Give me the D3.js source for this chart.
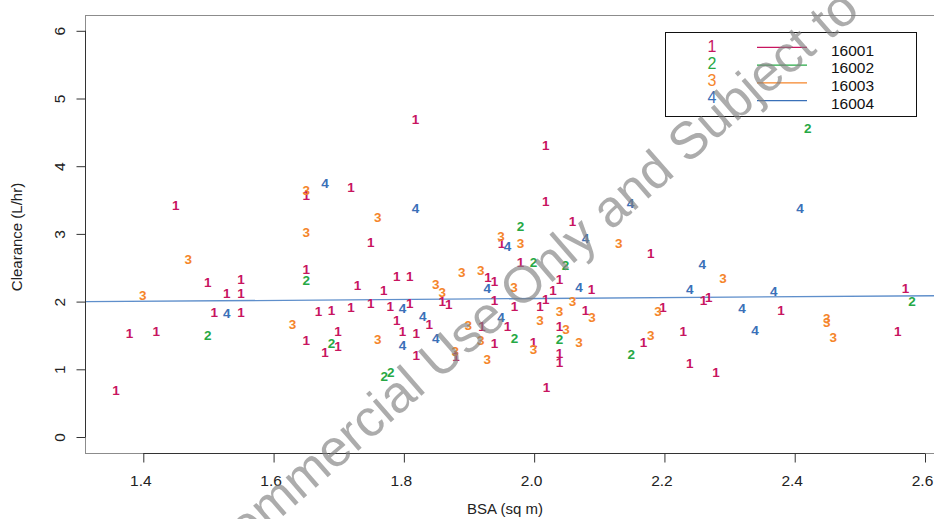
<!DOCTYPE html>
<html><head><meta charset="utf-8">
<script src="https://cdn.jsdelivr.net/npm/d3@7"></script>
<style>
html,body{margin:0;padding:0;background:#fff;}
svg{display:block;font-family:"Liberation Sans",Arial,Helvetica,sans-serif;}
</style></head>
<body><svg id="chart" width="934" height="519"></svg>
<script>
// ---- data ----
const groups = ["1","2","3","4"];
const groupLabels = ["16001","16002","16003","16004"];
const groupColors = ["#c8155f","#26a844","#f5852a","#3a70b8"];
const xTicks = [1.4,1.6,1.8,2.0,2.2,2.4,2.6];
const yTicks = [0,1,2,3,4,5,6];
const xTitle = "BSA (sq m)";
const yTitle = "Clearance (L/hr)";
const watermark = "Commercial Use Only and Subject to";

const g1x = [1.358,1.379,1.420,1.450,1.499,1.509,1.528,1.550,1.550,1.550,1.650,1.650,1.650,1.669,1.689,1.679,1.699,1.699,1.719,1.719,1.729,1.749,1.749,1.769,1.779,1.789,1.789,1.809,1.809,1.798,1.819,1.819,1.818,1.839,1.859,1.869,1.880,1.920,1.929,1.939,1.939,1.939,1.950,1.959,1.970,1.979,1.999,2.009,2.018,2.018,2.018,2.019,2.029,2.039,2.039,2.039,2.039,2.059,2.079,2.088,2.168,2.179,2.198,2.229,2.239,2.260,2.268,2.279,2.379,2.558,2.570];
const g1y = [0.69,1.54,1.57,3.43,2.29,1.85,2.13,2.33,2.13,1.84,2.48,3.57,1.43,1.86,1.88,1.25,1.57,1.34,1.92,3.69,2.25,2.88,1.97,2.17,1.94,2.38,1.73,2.38,1.98,1.57,1.53,1.21,4.69,1.67,2.00,1.96,1.19,1.64,2.36,2.30,2.02,1.38,2.87,1.64,1.94,2.59,1.40,1.94,4.31,3.48,2.03,0.73,2.17,2.33,1.64,1.24,1.11,3.19,1.88,2.18,1.40,2.72,1.92,1.56,1.09,2.02,2.07,0.96,1.88,1.57,2.20];
const g2x = [1.499,1.650,1.689,1.770,1.780,1.970,1.979,1.999,2.039,2.048,2.149,2.420,2.580];
const g2y = [1.51,2.31,1.39,0.90,0.96,1.46,3.12,2.58,1.44,2.54,1.22,4.56,2.00];
const g3x = [1.399,1.469,1.629,1.650,1.650,1.760,1.760,1.849,1.859,1.879,1.889,1.899,1.918,1.918,1.928,1.949,1.969,1.979,1.999,2.009,2.039,2.049,2.059,2.069,2.089,2.130,2.179,2.190,2.290,2.449,2.449,2.459];
const g3y = [2.10,2.62,1.66,3.64,3.03,3.25,1.45,2.26,2.14,1.27,2.44,1.65,2.46,1.43,1.15,2.96,2.21,2.86,1.30,1.73,1.86,1.59,2.01,1.40,1.77,2.87,1.50,1.86,2.34,1.75,1.70,1.47];
const g4x = [1.528,1.679,1.798,1.798,1.818,1.829,1.849,1.928,1.949,1.959,2.069,2.079,2.148,2.239,2.258,2.319,2.339,2.368,2.408];
const g4y = [1.83,3.75,1.90,1.35,3.38,1.78,1.46,2.20,1.77,2.82,2.21,2.93,3.46,2.18,2.55,1.90,1.58,2.16,3.38];
const fitIntercept = 1.909;
const fitSlope = 0.068;

const seriesX = [g1x,g2x,g3x,g4x];
const seriesY = [g1y,g2y,g3y,g4y];

// ---- layout ----
const svg = d3.select("#chart");
const plotL = 85, plotT = 15, plotB = 453, plotR = 960;
const x = d3.scaleLinear().domain([1.4,2.6]).range([143.3,925]);
const y = d3.scaleLinear().domain([0,6]).range([437,30.8]);

// box
svg.append("rect").attr("x",plotL+0.5).attr("y",plotT+0.5)
  .attr("width",plotR-plotL).attr("height",plotB-plotT)
  .attr("fill","none").attr("stroke","#8c8c8c").attr("stroke-width",1);

// axes
const xAxis = d3.axisBottom(x).tickValues(xTicks).tickFormat(d3.format(".1f")).tickSize(9).tickSizeOuter(0);
const gx = svg.append("g").attr("transform",`translate(0,${plotB+0.5})`).call(xAxis);
gx.select(".domain").attr("stroke","#333").attr("d",`M${x(1.4)},0H${x(2.6)}`);
gx.selectAll(".tick line").attr("stroke","#333");
gx.selectAll(".tick text").attr("fill","#222").attr("font-size","15.5px")
  .attr("font-family","Liberation Sans, Arial, sans-serif").attr("dy",null).attr("y",32).attr("x",-3);

const yAxis = d3.axisLeft(y).tickValues(yTicks).tickFormat(d3.format("d")).tickSize(9).tickSizeOuter(0);
const gy = svg.append("g").attr("transform",`translate(${plotL+0.5},0)`).call(yAxis);
gy.select(".domain").attr("stroke","#333").attr("d",`M0,${y(0)}V${y(6)}`);
gy.selectAll(".tick line").attr("stroke","#333");
gy.selectAll(".tick text").attr("fill","#222").attr("font-size","15.5px")
  .attr("font-family","Liberation Sans, Arial, sans-serif")
  .attr("x",null).attr("dy",null).attr("text-anchor","middle")
  .attr("transform","translate(-20.5,0) rotate(-90)").attr("y",0);

// titles
svg.append("text").attr("x",505).attr("y",514).attr("text-anchor","middle")
  .attr("font-size","15px").attr("fill","#222").text(xTitle);
svg.append("text").attr("transform","translate(22,237) rotate(-90)").attr("text-anchor","middle")
  .attr("font-size","15px").attr("fill","#222").text(yTitle);

// clip for plot
svg.append("clipPath").attr("id","pc").append("rect")
  .attr("x",plotL+1).attr("y",plotT+1).attr("width",plotR-plotL-1).attr("height",plotB-plotT-1);

// fit line
const fx0 = x.invert(plotL), fx1 = x.invert(plotR);
svg.append("line").attr("clip-path","url(#pc)")
  .attr("x1",x(fx0)).attr("y1",y(fitIntercept+fitSlope*fx0))
  .attr("x2",x(fx1)).attr("y2",y(fitIntercept+fitSlope*fx1))
  .attr("stroke","#5f8fcb").attr("stroke-width",1.3);

// points (digits)
groups.forEach((gname,i)=>{
  const pts = seriesX[i].map((v,j)=>({x:v,y:seriesY[i][j]}));
  svg.append("g").selectAll("text").data(pts).join("text")
    .attr("x",d=>x(d.x)).attr("y",d=>y(d.y))
    .attr("text-anchor","middle").attr("dy","0.36em")
    .attr("font-size","13.5px").attr("font-weight","bold")
    .attr("fill",groupColors[i]).text(gname);
});

// legend
const lg = svg.append("g");
lg.append("rect").attr("x",665.5).attr("y",32.5).attr("width",251).attr("height",84)
  .attr("fill","#fff").attr("stroke","#111").attr("stroke-width",1);
groups.forEach((gname,i)=>{
  lg.append("text").attr("x",712).attr("y",46.7+i*16.9).attr("dy","0.36em")
    .attr("text-anchor","middle").attr("font-size","16px").attr("fill",groupColors[i]).text(gname);
  lg.append("line").attr("x1",757).attr("x2",807)
    .attr("y1",47.3+i*17.8).attr("y2",47.3+i*17.8)
    .attr("stroke",groupColors[i]).attr("stroke-width",1.2);
  lg.append("text").attr("x",831).attr("y",50+i*17.8).attr("dy","0.36em")
    .attr("font-size","15.5px").attr("fill","#111").text(groupLabels[i]);
});

// watermark
svg.append("text").attr("transform","translate(528,279) rotate(-41)")
  .attr("text-anchor","middle").attr("dy","0.35em")
  .attr("font-size","52px").attr("fill","#808080").attr("fill-opacity",0.65)
  .text(watermark);
</script></body></html>
